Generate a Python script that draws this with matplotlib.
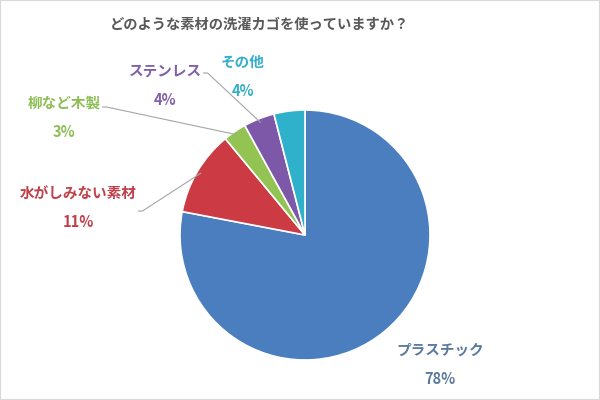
import numpy as np
import matplotlib.pyplot as plt
from matplotlib.patches import Rectangle

plt.rcParams['font.family'] = ['Noto Sans CJK JP', 'DejaVu Sans']

title = 'どのような素材の洗濯カゴを使っていますか？'
categories = ['プラスチック', '水がしみない素材', '柳など木製', 'ステンレス', 'その他']
values = [78, 11, 3, 4, 4]
colors = ['#4A7EBF', '#CC3A43', '#92C353', '#7E58A8', '#2FB1CB']
label_colors = ['#5C7A9E', '#C0404A', '#8DBE55', '#8060A8', '#35AFC8']

# label centers (pixels, y down), leader line on/off and its start offset
label_pos = [(440, 350), (78, 193), (64, 103), (165, 71), (243, 62)]
leader = [False, True, True, True, False]
leader_dy = [0, 18, 4, 2, 0]

fig = plt.figure(figsize=(6, 4), dpi=100)
ax = fig.add_axes([0, 0, 1, 1])

cx, cy, r = 305, 235, 125
# y axis points down, so counterclock in data space is clockwise on screen
wedges, _ = ax.pie(values, colors=colors, startangle=-90, counterclock=True,
                   radius=r, center=(cx, cy),
                   wedgeprops=dict(edgecolor='white', linewidth=1.2))
ax.set_xlim(0, 600)
ax.set_ylim(400, 0)
ax.set_aspect('equal')
ax.axis('off')

fig.canvas.draw()
renderer = fig.canvas.get_renderer()

for w, lab, v, (lx, ly), col, ld, dy in zip(wedges, categories, values, label_pos,
                                            label_colors, leader, leader_dy):
    t = ax.text(lx, ly, lab, ha='center', va='center', fontsize=10.5,
                fontweight='bold', color=col)
    ax.text(lx, ly + 29, f'{v}%', ha='center', va='center', fontsize=10.5,
            fontweight='bold', color=col)
    if ld:
        mid = np.deg2rad((w.theta1 + w.theta2) / 2)
        ex = cx + r * 0.97 * np.cos(mid)
        ey = cy + r * 0.97 * np.sin(mid)
        bb = t.get_window_extent(renderer)
        sx = lx + bb.width / 2 + 2
        ax.plot([sx, sx + 4, ex], [ly + dy, ly + dy, ey], color='#A6A6A6', lw=0.8)

ax.text(259, 25, title, ha='center', va='center', fontsize=10.3,
        fontweight='bold', color='#595959')

fig.patches.append(Rectangle((0, 0), 1, 1, transform=fig.transFigure,
                             fill=False, edgecolor='#D9D9D9', lw=1.5))

fig.savefig('out.png', dpi=100)
